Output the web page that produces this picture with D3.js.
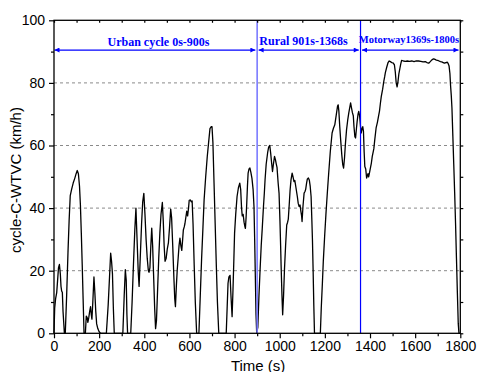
<!DOCTYPE html>
<html><head><meta charset="utf-8">
<script src="https://cdn.jsdelivr.net/npm/d3@7"></script>
<style>
html,body{margin:0;padding:0;background:#fff;}
svg{display:block;}
</style></head>
<body>
<svg id="chart" width="478" height="372"></svg>
<script>
// ---- data ----
const timeS = [0,3,7,12,16,20,24,28,31,34,37,40,46,50,56,62,67,72,78,85,92,98,103,108,113,117,121,125,129,133,139,143,147,150,154,158,162,165,168,172,177,181,185,189,194,200,206,
232,240,246,251,255,259,263,267,
305,311,316,320,323,326,340,346,352,358,363,368,373,377,382,388,393,398,403,408,413,418,421,425,429,433,437,441,446,450,454,459,464,469,474,480,484,488,492,497,502,507,512,517,521,526,531,535,538,542,546,550,554,558,562,566,570,573,577,580,584,588,592,596,599,604,608,612,616,621,626,632,
642,648,654,660,665,672,679,685,691,696,700,704,709,714,719,724,730,
763,767,771,775,780,784,789,793,797,800,805,811,817,823,827,831,834,838,842,846,848,851,854,857,860,864,868,872,877,882,886,889,892,895,898,
903,908,913,918,923,928,932,935,940,947,951,956,960,964,968,972,977,981,985,988,993,997,1001,1004,1006,1010,1013,1017,1021,1026,1031,1035,1038,1042,1046,1050,1055,1059,1063,1067,1072,1078,1082,1086,1090,1094,1097,1099,1103,1108,1112,1115,1119,1122,1127,1131,1135,1139,1142,1145,1148,1151,1154,
1180,1184,1189,1193,1199,1205,1211,1217,1224,1232,1238,1244,1251,1256,1259,1262,1266,1270,1275,1279,1283,1287,1291,1296,1301,1306,1310,1314,1318,1322,1326,1329,1333,1336,1340,1343,1347,1350,1354,1358,1361,1365,1368,1371,1374,1377,1381,1385,1388,1391,1394,1397,1401,1406,1410,1413,1417,1421,1427,1433,1438,1442,1446,1450,1456,1461,1465,1468,1474,1480,1485,1490,1496,1502,1508,1512,1516,1520,1524,1528,1532,1536,1540,1548,1556,1565,1575,1585,1595,1605,1615,1625,1635,1645,1652,1660,1667,1672,1677,1682,1688,1694,1700,1706,1712,1718,1724,1730,1736,1742,1746,1750,1754,1757,1760,1763,1767,1771,1775,1779,1783,1787,1791,1794,1800];
const speedKmh = [0,8,11,13,17,21,22,19,15,13.5,13,7,0,0,12,26,36,44,46,48,49.5,51,52,51,47,41,32,22,11,0,0,5.5,5,3.5,5,7,8.5,6,4.5,10,18,13,7,3,1.5,0.5,0,
0,9,18,25.6,23,19,8,0,
0,12,20.3,17,6,0,0,10,22,33,40,30,20,15,24,35,42,44.7,38,30,24,20,19.5,21,28,33.6,28,19,8,1.5,4,14,24,32,38,41.8,36,28,23,24,27,29,34,39.7,37,28,18,11,8.5,15,20.3,24,28,30.4,28,26.5,30,33,34,35,37,39,37.5,40,42.5,42.6,42,42.3,35,22,10,0,
0,12,24,34,42.6,50,56.5,61,65.4,66,66,61,48,35,22,10,0,
0,8,16,18,18.5,12,5.3,14,24,32,38,43.7,46.5,48,46,40,37.5,38,35.5,34,33.5,37,41.6,47,51.2,52.5,52.8,51.5,49.5,46,40.5,30,18,6,0,
2,12,20.3,28,34,40.5,45,49,54,58,59.5,60,57.5,54.5,51.7,54,56.5,55.5,54,53,48,44.8,36,28,22,12,5.9,12,20.3,28,34.6,35.5,36.5,41,45.8,49,51.2,50,48.5,48.8,46.5,43.7,41.5,40.5,41,38.9,37.5,35.7,40.5,44.8,45.3,46,48,49.2,49.6,49,47,43.7,37,29.8,20,9,0,
0,8,16,22.9,31,38.4,45,51.2,58,64,65.5,66.6,70,72.5,73,71,66,61.8,57,54,52.8,56,60.5,65,68,70.4,72,73.6,72,70.5,69.5,66,62.8,62.4,65.5,67.7,70,70.9,69.5,66,64,65.5,66,64.5,58,53.3,52.5,49.6,50.3,51,50,51,52.5,54.4,56.5,57.6,59,61.8,65.6,67.5,69.5,71,73.5,75.7,78,80.5,82,83.3,85,86.5,87,86.8,86.5,86.4,85.8,83.5,80,78.7,80.5,83,84.5,86,87.2,87,86.9,87,86.9,87,86.8,87,87,86.9,86.7,86.8,86.5,86.3,86.8,87.2,87.5,87.7,87.5,87.3,87.2,87,86.8,86.7,86.5,86.3,86.5,86.6,86.2,85.5,83,79,76,72,63,54,45,35,24,13,3,0,0];

const xMajorTicks = [0,200,400,600,800,1000,1200,1400,1600,1800];
const xMinorTicks = [100,300,500,700,900,1100,1300,1500,1700];
const yMajorTicks = [0,20,40,60,80,100];
const yMinorTicks = [10,30,50,70,90];
const gridValues = [20,40,60,80];

const phaseBounds = [0,900,1358,1800];
const phaseLabels = ["Urban cycle 0s-900s","Rural 901s-1368s","Motorway1369s-1800s"];
const arrowLevel = 90.5;

const xTitle = "Time (s)";
const yTitle = "cycle-C-WTVC (km/h)";

// ---- drawing ----
const svg = d3.select("#chart");
const L = 54, R = 460.3, T = 20.3, B = 333.3;
const x = d3.scaleLinear().domain([0,1800]).range([L,R]);
const y = d3.scaleLinear().domain([0,100]).range([B,T]);

// grid
svg.append("g").selectAll("line").data(gridValues).join("line")
  .attr("x1",L).attr("x2",R).attr("y1",d=>y(d)).attr("y2",d=>y(d))
  .attr("stroke","#8a8a8a").attr("stroke-width",1).attr("stroke-dasharray","3,3");

// data line
const pts = timeS.map((t,i)=>[t,speedKmh[i]]);
svg.append("path").datum(pts)
  .attr("fill","none").attr("stroke","#000").attr("stroke-width",1.3)
  .attr("stroke-linejoin","round")
  .attr("d", d3.line().x(d=>x(d[0])).y(d=>y(d[1])));

// phase vertical lines
svg.append("line").attr("x1",x(phaseBounds[1])).attr("x2",x(phaseBounds[1]))
  .attr("y1",T).attr("y2",B).attr("stroke","#7b7bff").attr("stroke-width",1.6);
svg.append("line").attr("x1",x(phaseBounds[2])).attr("x2",x(phaseBounds[2]))
  .attr("y1",T).attr("y2",B).attr("stroke","#0000ff").attr("stroke-width",1.2);

// arrows
const defs = svg.append("defs");
function marker(id, orient){
  defs.append("marker").attr("id",id).attr("viewBox","0 0 10 10")
    .attr("refX",10).attr("refY",5).attr("markerWidth",8).attr("markerHeight",5)
    .attr("markerUnits","userSpaceOnUse").attr("orient",orient)
    .append("path").attr("d","M0,0 L10,5 L0,10 z").attr("fill","#0000ff");
}
marker("ah","auto"); marker("ahs","auto-start-reverse");
const ay = y(arrowLevel);
const labelFont = [12,12,10.5];
const labelY = [46,44.5,42.5];
for(let i=0;i<3;i++){
  const x1 = x(phaseBounds[i]) + (i===0?0.5:1.5);
  const x2 = x(phaseBounds[i+1]) - 1.8;
  svg.append("line").attr("x1",x1).attr("x2",x2).attr("y1",ay).attr("y2",ay)
    .attr("stroke","#0000ff").attr("stroke-width",1.3)
    .attr("marker-start","url(#ahs)").attr("marker-end","url(#ah)");
}
const labelX = [158.5,303.5,409];
svg.append("g").selectAll("text").data(phaseLabels).join("text")
  .attr("x",(d,i)=>labelX[i]).attr("y",(d,i)=>labelY[i])
  .attr("text-anchor","middle")
  .attr("font-family","'Liberation Serif','Times New Roman',serif")
  .attr("font-weight","bold").attr("font-size",(d,i)=>labelFont[i])
  .attr("fill","#0000ff").text(d=>d);

// axes
const tickFont = "'Liberation Sans',Arial,sans-serif";
function styleAxis(g){
  g.select(".domain").remove();
  g.selectAll("line").attr("stroke","#000").attr("stroke-width",1.2);
  g.selectAll("text").attr("font-family",tickFont).attr("font-size",14).attr("fill","#000");
}
svg.append("g").attr("transform",`translate(0,${B})`)
  .call(d3.axisBottom(x).tickValues(xMajorTicks).tickSize(5).tickPadding(3).tickFormat(d3.format("d")))
  .call(styleAxis);
svg.append("g").attr("transform",`translate(0,${B})`)
  .call(d3.axisBottom(x).tickValues(xMinorTicks).tickSize(3).tickFormat(""))
  .call(styleAxis);
svg.append("g").attr("transform",`translate(${L},0)`)
  .call(d3.axisLeft(y).tickValues(yMajorTicks).tickSize(5).tickPadding(4).tickFormat(d3.format("d")))
  .call(styleAxis);
svg.append("g").attr("transform",`translate(${L},0)`)
  .call(d3.axisLeft(y).tickValues(yMinorTicks).tickSize(3).tickFormat(""))
  .call(styleAxis);
svg.append("g").attr("transform",`translate(${R},0)`)
  .call(d3.axisRight(y).tickValues(yMajorTicks.concat(yMinorTicks)).tickSize(3).tickFormat(""))
  .call(styleAxis);
svg.append("g").attr("transform",`translate(0,${T})`)
  .call(d3.axisTop(x).tickValues(xMajorTicks.concat(xMinorTicks)).tickSize(-2.5).tickFormat(""))
  .call(styleAxis);

// frame
svg.append("rect").attr("x",L).attr("y",T).attr("width",R-L).attr("height",B-T)
  .attr("fill","none").attr("stroke","#000").attr("stroke-width",1.3);

// titles
svg.append("text").attr("x",(L+R)/2+1).attr("y",370.5).attr("text-anchor","middle")
  .attr("font-family",tickFont).attr("font-size",15).text(xTitle);
svg.append("text").attr("transform",`translate(21,180) rotate(-90)`).attr("text-anchor","middle")
  .attr("font-family",tickFont).attr("font-size",15).text(yTitle);
</script>
</body></html>
